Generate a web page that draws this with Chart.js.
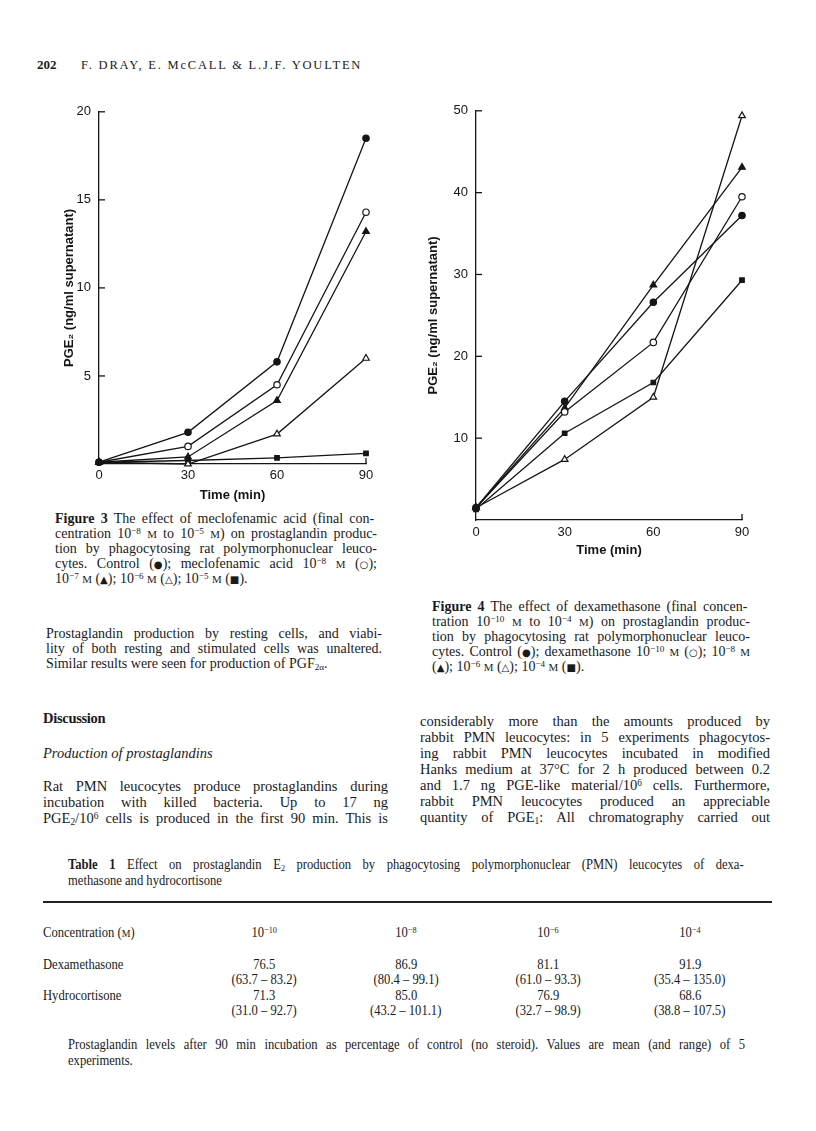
<!DOCTYPE html>
<html>
<head>
<meta charset="utf-8">
<script src="https://cdn.jsdelivr.net/npm/chart.js@4.4.1/dist/chart.umd.min.js"></script>
<style>
html, body { margin: 0; padding: 0; background: #fff; }
body { width: 816px; height: 1131px; position: relative; overflow: hidden; color: #1a1a1a; font-family: "Liberation Serif", "Times New Roman", serif; }
.t { position: absolute; line-height: 16px; white-space: nowrap; }
.cap { font-size: 14px; }
.body { font-size: 14.5px; }
.tab { font-size: 14px; transform: scaleX(0.9); transform-origin: left center; }
.sc { font-size: 0.78em; }
.sy { font-family: "DejaVu Sans", sans-serif; font-size: 0.72em; }
sup { font-size: 0.65em; vertical-align: 0.45em; line-height: 0; }
sub { font-size: 0.65em; vertical-align: -0.25em; line-height: 0; }
canvas { position: absolute; }
.rule { position: absolute; left: 43px; width: 729px; top: 901px; height: 1.6px; background: #222; }
.cell { position: absolute; width: 160px; text-align: center; line-height: 16px; font-size: 14px; white-space: nowrap; }
.cell span { display: inline-block; transform: scaleX(0.9); }
</style>
</head>
<body>

<canvas id="fig3" width="340" height="414" style="left:40px; top:96px; width:340px; height:414px;"></canvas>
<canvas id="fig4" width="360" height="470" style="left:410px; top:95px; width:360px; height:470px;"></canvas>

<div class="t" style="left:37px; top:57px; font-size:13px; font-weight:bold;">202</div>
<div class="t" style="left:81px; top:57px; font-size:12.5px; letter-spacing:1.8px;">F. DRAY, E. McCALL &amp; L.J.F. YOULTEN</div>

<!-- Figure 3 caption -->
<div class="t cap j" data-w="322" style="left:55px; top:511px;"><b>Figure 3</b>  The effect of meclofenamic acid (final con-</div>
<div class="t cap j" data-w="322" style="left:55px; top:526px;">centration 10<sup>−8</sup> <span class="sc">M</span> to 10<sup>−5</sup> <span class="sc">M</span>) on prostaglandin produc-</div>
<div class="t cap j" data-w="322" style="left:55px; top:541px;">tion by phagocytosing rat polymorphonuclear leuco-</div>
<div class="t cap j" data-w="322" style="left:55px; top:556px;">cytes. Control (<span class="sy">●</span>); meclofenamic acid 10<sup>−8</sup> <span class="sc">M</span> (<span class="sy">○</span>);</div>
<div class="t cap" style="left:55px; top:571px;">10<sup>−7</sup> <span class="sc">M</span> (<span class="sy">▲</span>); 10<sup>−6</sup> <span class="sc">M</span> (<span class="sy">△</span>); 10<sup>−5</sup> <span class="sc">M</span> (<span class="sy">■</span>).</div>

<!-- Figure 4 caption -->
<div class="t cap j" data-w="318" style="left:432px; top:599px;"><b>Figure 4</b>  The effect of dexamethasone (final concen-</div>
<div class="t cap j" data-w="318" style="left:432px; top:614px;">tration 10<sup>−10</sup> <span class="sc">M</span> to 10<sup>−4</sup> <span class="sc">M</span>) on prostaglandin produc-</div>
<div class="t cap j" data-w="318" style="left:432px; top:629px;">tion by phagocytosing rat polymorphonuclear leuco-</div>
<div class="t cap j" data-w="318" style="left:432px; top:644px;">cytes. Control (<span class="sy">●</span>); dexamethasone 10<sup>−10</sup> <span class="sc">M</span> (<span class="sy">○</span>); 10<sup>−8</sup> <span class="sc">M</span></div>
<div class="t cap" style="left:432px; top:659px;">(<span class="sy">▲</span>); 10<sup>−6</sup> <span class="sc">M</span> (<span class="sy">△</span>); 10<sup>−4</sup> <span class="sc">M</span> (<span class="sy">■</span>).</div>

<!-- paragraph under fig 3 -->
<div class="t cap j" data-w="336" style="left:46px; top:626px;">Prostaglandin production by resting cells, and viabi-</div>
<div class="t cap j" data-w="336" style="left:46px; top:641px;">lity of both resting and stimulated cells was unaltered.</div>
<div class="t cap" style="left:46px; top:656px;">Similar results were seen for production of PGF<sub>2α</sub>.</div>

<!-- Discussion left -->
<div class="t body" style="left:43px; top:710px; font-weight:bold; letter-spacing:-0.3px;">Discussion</div>
<div class="t body" style="left:43px; top:745px; font-style:italic;">Production of prostaglandins</div>
<div class="t body j" data-w="345" style="left:43px; top:778px;">Rat PMN leucocytes produce prostaglandins during</div>
<div class="t body j" data-w="345" style="left:43px; top:794px;">incubation with killed bacteria. Up to 17 ng</div>
<div class="t body j" data-w="345" style="left:43px; top:810px;">PGE<sub>2</sub>/10<sup>6</sup> cells is produced in the first 90 min. This is</div>

<!-- Discussion right -->
<div class="t body j" data-w="350" style="left:420px; top:713px;">considerably more than the amounts produced by</div>
<div class="t body j" data-w="350" style="left:420px; top:729px;">rabbit PMN leucocytes: in 5 experiments phagocytos-</div>
<div class="t body j" data-w="350" style="left:420px; top:745px;">ing rabbit PMN leucocytes incubated in modified</div>
<div class="t body j" data-w="350" style="left:420px; top:761px;">Hanks medium at 37°C for 2 h produced between 0.2</div>
<div class="t body j" data-w="350" style="left:420px; top:777px;">and 1.7 ng PGE-like material/10<sup>6</sup> cells. Furthermore,</div>
<div class="t body j" data-w="350" style="left:420px; top:793px;">rabbit PMN leucocytes produced an appreciable</div>
<div class="t body j" data-w="350" style="left:420px; top:809px;">quantity of PGE<sub>1</sub>: All chromatography carried out</div>

<!-- Table -->
<div class="t tab j" data-w="684" style="left:68px; top:857px;"><b>Table 1</b>  Effect on prostaglandin E<sub>2</sub> production by phagocytosing polymorphonuclear (PMN) leucocytes of dexa-</div>
<div class="t tab" style="left:68px; top:873px;">methasone and hydrocortisone</div>
<div class="rule"></div>
<div class="t tab" style="left:43px; top:925px;">Concentration (<span class="sc">M</span>)</div>
<div class="t tab" style="left:43px; top:957px;">Dexamethasone</div>
<div class="t tab" style="left:43px; top:988px;">Hydrocortisone</div>
<div id="tableCells"></div>
<div class="t tab j" data-w="677" style="left:68px; top:1037px;">Prostaglandin levels after 90 min incubation as percentage of control (no steroid). Values are mean (and range) of 5</div>
<div class="t tab" style="left:68px; top:1053px;">experiments.</div>

<script>
// Figure values
const timePoints = [0, 30, 60, 90];
const xTicks = [0, 30, 60, 90];

// Figure 3 - meclofenamic acid
const fig3Control = [0.1, 1.8, 5.8, 18.5];
const fig3Meclo8 = [0.1, 1.0, 4.5, 14.3];
const fig3Meclo7 = [0.1, 0.4, 3.6, 13.2];
const fig3Meclo6 = [0.1, 0.0, 1.7, 6.0];
const fig3Meclo5 = [0.1, 0.2, 0.35, 0.6];
const fig3YTicks = [5, 10, 15, 20];

// Figure 4 - dexamethasone
const fig4Control = [1.5, 14.5, 26.6, 37.2];
const fig4Dex10 = [1.5, 13.2, 21.7, 39.5];
const fig4Dex8 = [1.5, 13.7, 28.7, 43.1];
const fig4Dex6 = [1.5, 7.4, 15.0, 49.4];
const fig4Dex4 = [1.3, 10.6, 16.8, 29.3];
const fig4YTicks = [10, 20, 30, 40, 50];

// Table 1
const concLabels = ['10<sup>−10</sup>', '10<sup>−8</sup>', '10<sup>−6</sup>', '10<sup>−4</sup>'];
const dexMean = ['76.5', '86.9', '81.1', '91.9'];
const dexRange = ['(63.7 – 83.2)', '(80.4 – 99.1)', '(61.0 – 93.3)', '(35.4 – 135.0)'];
const hydMean = ['71.3', '85.0', '76.9', '68.6'];
const hydRange = ['(31.0 – 92.7)', '(43.2 – 101.1)', '(32.7 – 98.9)', '(38.8 – 107.5)'];

const INK = '#151515';

function series(values, style, filled) {
    return {
        data: values.map((v, i) => ({ x: timePoints[i], y: v })),
        borderColor: INK,
        borderWidth: 1.3,
        pointStyle: style,
        pointRadius: style === 'triangle' ? 3.8 : 3.2,
        pointBorderWidth: 1.2,
        pointBorderColor: INK,
        pointBackgroundColor: filled ? INK : '#fff',
        tension: 0,
        clip: false
    };
}

// inward ticks on the y axis and the little upturn at the end of the x axis
const inwardTicks = {
    id: 'inwardTicks',
    afterDraw(chart) {
        const { ctx, scales: { x, y } } = chart;
        ctx.save();
        ctx.strokeStyle = INK;
        ctx.lineWidth = 1.3;
        y.ticks.forEach(t => {
            if (t.value === 0) return;
            const py = y.getPixelForValue(t.value);
            ctx.beginPath();
            ctx.moveTo(x.left, py);
            ctx.lineTo(x.left + 6, py);
            ctx.stroke();
        });
        const px = x.getPixelForValue(x.max);
        ctx.beginPath();
        ctx.moveTo(px, y.bottom);
        ctx.lineTo(px, y.bottom - 6);
        ctx.stroke();
        ctx.restore();
    }
};

function makeChart(id, datasets, yTicks, g) {
    const tickFont = { family: '"Liberation Sans", Arial, sans-serif', size: 13 };
    const titleFont = { family: '"Liberation Sans", Arial, sans-serif', size: 13, weight: 'bold' };
    return new Chart(document.getElementById(id), {
        type: 'line',
        data: { datasets: datasets },
        plugins: [inwardTicks],
        options: {
            responsive: false,
            animation: false,
            layout: { padding: { top: g.top, right: g.right, left: 0, bottom: 0 } },
            plugins: { legend: { display: false }, tooltip: { enabled: false } },
            scales: {
                x: {
                    type: 'linear',
                    min: 0,
                    max: 90,
                    afterBuildTicks: s => { s.ticks = xTicks.map(v => ({ value: v })); },
                    afterFit: s => { s.height = g.xHeight; },
                    grid: { display: false, drawTicks: false },
                    border: { display: true, color: INK, width: 1.3 },
                    ticks: { color: INK, font: tickFont, padding: g.xPad, maxRotation: 0 },
                    title: { display: true, text: 'Time (min)', color: INK, font: titleFont, padding: { top: 0, bottom: g.xTitlePad } }
                },
                y: {
                    type: 'linear',
                    min: 0,
                    max: yTicks[yTicks.length - 1],
                    afterBuildTicks: s => { s.ticks = [0].concat(yTicks).map(v => ({ value: v })); },
                    afterFit: s => { s.width = g.yWidth; },
                    grid: { display: false, drawTicks: false },
                    border: { display: true, color: INK, width: 1.3 },
                    ticks: { color: INK, font: tickFont, padding: 8, callback: v => (v === 0 ? '' : v) },
                    title: { display: true, text: 'PGE₂ (ng/ml supernatant)', color: INK, font: titleFont, padding: { top: g.yTitlePad, bottom: 0 } }
                }
            }
        }
    });
}

makeChart('fig3', [
    series(fig3Control, 'circle', true),
    series(fig3Meclo8, 'circle', false),
    series(fig3Meclo7, 'triangle', true),
    series(fig3Meclo6, 'triangle', false),
    series(fig3Meclo5, 'rect', true)
], fig3YTicks, { top: 12, right: 14, yWidth: 59, xHeight: 46, xPad: 4, xTitlePad: 7, yTitlePad: 22 });

makeChart('fig4', [
    series(fig4Control, 'circle', true),
    series(fig4Dex10, 'circle', false),
    series(fig4Dex8, 'triangle', true),
    series(fig4Dex6, 'triangle', false),
    series(fig4Dex4, 'rect', true)
], fig4YTicks, { top: 15, right: 28, yWidth: 66, xHeight: 45, xPad: 5, xTitlePad: 7, yTitlePad: 16 });

// Table 1 cells
const colCenters = [264, 406, 548, 690];
let cellsHtml = '';
colCenters.forEach((cx, i) => {
    const rows = [[925, concLabels[i]], [957, dexMean[i]], [972, dexRange[i]], [988, hydMean[i]], [1003, hydRange[i]]];
    rows.forEach(r => {
        cellsHtml += '<div class="cell" style="left:' + (cx - 80) + 'px; top:' + r[0] + 'px;"><span>' + r[1] + '</span></div>';
    });
});
document.getElementById('tableCells').innerHTML = cellsHtml;

// justify each printed line to its measured width
function justifyLines() {
    document.querySelectorAll('.j').forEach(el => {
        el.style.wordSpacing = '0px';
        const isTab = el.classList.contains('tab');
        const natural = el.getBoundingClientRect().width / (isTab ? 0.9 : 1);
        const goal = parseFloat(el.dataset.w) / (isTab ? 0.9 : 1);
        const spaces = (el.textContent.match(/ /g) || []).length;
        if (spaces > 0) el.style.wordSpacing = ((goal - natural) / spaces) + 'px';
    });
}
document.querySelectorAll('.j').forEach(el => { el.style.display = 'inline-block'; });
justifyLines();
if (document.fonts) document.fonts.ready.then(justifyLines);
</script>
</body>
</html>
